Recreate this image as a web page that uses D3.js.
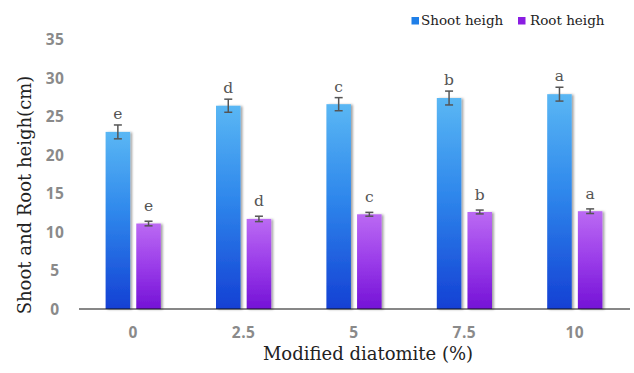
<!DOCTYPE html>
<html>
<head>
<meta charset="utf-8">
<script src="https://cdn.jsdelivr.net/npm/d3@7/dist/d3.min.js"></script>
<style>
  html, body { margin: 0; padding: 0; background: #fff; }
  svg { display: block; }
</style>
</head>
<body>
<svg id="chart" width="634" height="373"></svg>
<script>
// Diatomite dose levels (%) and measured heights (cm)
const categories = ["0", "2.5", "5", "7.5", "10"];
const shootHeight = [23.0, 26.4, 26.6, 27.4, 27.9];
const shootError  = [0.9, 0.85, 0.85, 0.9, 0.9];
const rootHeight  = [11.1, 11.7, 12.3, 12.6, 12.7];
const rootError   = [0.3, 0.35, 0.25, 0.25, 0.3];
const shootLetters = ["e", "d", "c", "b", "a"];
const rootLetters  = ["e", "d", "c", "b", "a"];
const yTicks = [0, 5, 10, 15, 20, 25, 30, 35];
const seriesNames = ["Shoot heigh", "Root heigh"];

const svg = d3.select("#chart");
const serif = "'DejaVu Serif', 'Liberation Serif', serif";
const sans = "'Open Sans', 'DejaVu Sans', sans-serif";

// Scales
const x = d3.scaleBand().domain(categories).range([78, 630]).paddingInner(0).paddingOuter(0);
const xs = d3.scaleBand().domain(["shoot", "root"]).range([0, x.bandwidth()])
  .paddingInner(0.2).paddingOuter(0.9);
const y = d3.scaleLinear().domain([0, 35]).range([309, 39.5]);

// Gradients and bar shadow
const defs = svg.append("defs");
function vGrad(id, stops) {
  const g = defs.append("linearGradient").attr("id", id)
    .attr("x1", 0).attr("y1", 0).attr("x2", 0).attr("y2", 1);
  stops.forEach(([o, c]) => g.append("stop").attr("offset", o).attr("stop-color", c));
}
vGrad("gShoot", [[0, "#5ab7f4"], [0.45, "#2f88ec"], [1, "#1440d4"]]);
vGrad("gRoot",  [[0, "#bb6af3"], [0.5, "#9a3ce9"], [1, "#7412d6"]]);
const shadow = defs.append("filter").attr("id", "barShadow")
  .attr("x", "-20%").attr("y", "-5%").attr("width", "150%").attr("height", "110%");
shadow.append("feDropShadow").attr("dx", 2).attr("dy", 0.5)
  .attr("stdDeviation", 1.2).attr("flood-color", "#000").attr("flood-opacity", 0.35);

// Y tick labels (no axis line)
svg.append("g").selectAll("text").data(yTicks).join("text")
  .attr("x", 55).attr("y", d => y(d)).attr("dy", "0.36em")
  .attr("text-anchor", "middle")
  .attr("font-family", sans).attr("font-weight", 700).attr("font-size", 15.5)
  .attr("letter-spacing", 0.5)
  .attr("fill", "#8a8a8a")
  .text(d => d);

// Bars, error bars and letters
const rows = categories.map((c, i) => ({
  cat: c,
  items: [
    { key: "shoot", v: shootHeight[i], e: shootError[i], L: shootLetters[i], fill: "url(#gShoot)", gap: 6 },
    { key: "root",  v: rootHeight[i],  e: rootError[i],  L: rootLetters[i],  fill: "url(#gRoot)",  gap: 10 }
  ]
}));

const groups = svg.append("g").selectAll("g").data(rows).join("g")
  .attr("transform", d => `translate(${x(d.cat)},0)`);

groups.selectAll("rect").data(d => d.items).join("rect")
  .attr("x", d => xs(d.key)).attr("width", xs.bandwidth())
  .attr("y", d => y(d.v)).attr("height", d => y(0) - y(d.v))
  .attr("fill", d => d.fill)
  .attr("filter", "url(#barShadow)");

const eb = groups.selectAll("g.err").data(d => d.items).join("g").attr("class", "err")
  .attr("stroke", "#555").attr("stroke-width", 1.5);
eb.append("line")
  .attr("x1", d => xs(d.key) + xs.bandwidth() / 2).attr("x2", d => xs(d.key) + xs.bandwidth() / 2)
  .attr("y1", d => y(d.v + d.e)).attr("y2", d => y(d.v - d.e));
[1, -1].forEach(s => eb.append("line")
  .attr("x1", d => xs(d.key) + xs.bandwidth() / 2 - 4).attr("x2", d => xs(d.key) + xs.bandwidth() / 2 + 4)
  .attr("y1", d => y(d.v + s * d.e)).attr("y2", d => y(d.v + s * d.e)));

groups.selectAll("text.sig").data(d => d.items).join("text").attr("class", "sig")
  .attr("x", d => xs(d.key) + xs.bandwidth() / 2)
  .attr("y", d => y(d.v + d.e) - d.gap)
  .attr("text-anchor", "middle")
  .attr("font-family", serif).attr("font-size", 15.5).attr("fill", "#555")
  .text(d => d.L);

// Baseline
svg.append("line").attr("x1", 79).attr("x2", 630).attr("y1", y(0)).attr("y2", y(0))
  .attr("stroke", "#111").attr("stroke-width", 1.2);

// X tick labels
svg.append("g").selectAll("text").data(categories).join("text")
  .attr("x", d => x(d) + x.bandwidth() / 2).attr("y", 338)
  .attr("text-anchor", "middle")
  .attr("font-family", sans).attr("font-weight", 700).attr("font-size", 15.5)
  .attr("letter-spacing", 0.5)
  .attr("fill", "#8a8a8a")
  .text(d => d);

// Axis titles
svg.append("text").attr("x", 368).attr("y", 360).attr("text-anchor", "middle")
  .attr("font-family", serif).attr("font-size", 18).attr("fill", "#222")
  .text("Modified diatomite (%)");
svg.append("text").attr("transform", "translate(31,195) rotate(-90)")
  .attr("text-anchor", "middle")
  .attr("font-family", serif).attr("font-size", 18).attr("fill", "#222")
  .text("Shoot and Root heigh(cm)");

// Legend
const legendItems = [
  { name: seriesNames[0], color: "#1f7fe8", x: 411.5, tx: 421 },
  { name: seriesNames[1], color: "#8a1de2", x: 518, tx: 530 }
];
const lg = svg.append("g").selectAll("g").data(legendItems).join("g");
lg.append("rect").attr("x", d => d.x).attr("y", 17).attr("width", 7.5).attr("height", 7.5)
  .attr("fill", d => d.color);
lg.append("text").attr("x", d => d.tx).attr("y", 24.5)
  .attr("font-family", serif).attr("font-size", 13.5).attr("fill", "#222")
  .text(d => d.name);
</script>
</body>
</html>
